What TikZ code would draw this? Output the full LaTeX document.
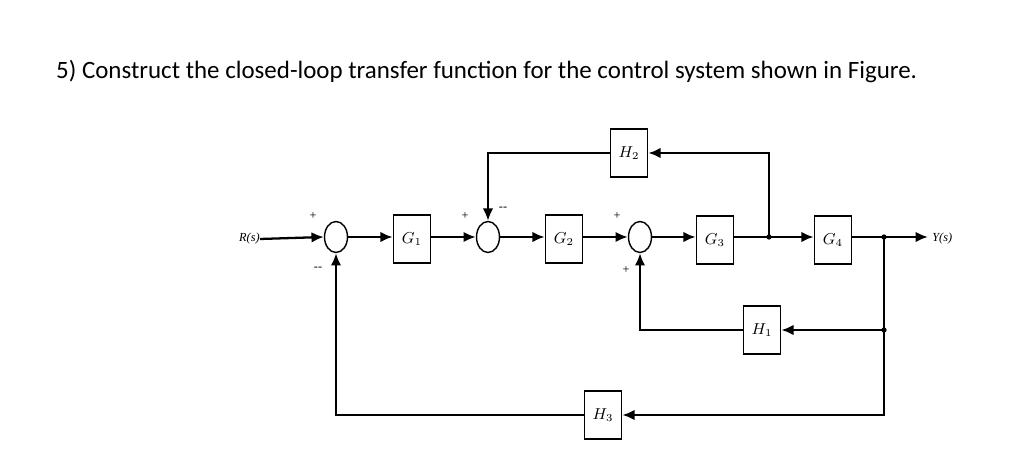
\documentclass[tikz,border=0pt]{standalone}
\usepackage{fontspec}
\setmainfont{Carlito}
\newfontfamily\tms{Liberation Serif}
\usetikzlibrary{arrows.meta,shapes.geometric}
\begin{document}
\begin{tikzpicture}[x=0.02cm,y=-0.02cm,
  blk/.style={draw,line width=1pt,minimum width=0.74cm,minimum height=0.96cm,inner sep=0pt,font=\tms\itshape\small},
  sum/.style={draw,line width=0.8pt,ellipse,minimum width=0.46cm,minimum height=0.62cm,inner sep=0pt},
  sig/.style={line width=1.3pt,-{Latex[length=7pt,width=6pt]}},
  wire/.style={line width=1.3pt},
  sg/.style={font=\tms\scriptsize,inner sep=0pt},
  dot/.style={circle,fill,inner sep=0pt,minimum size=3pt}]
\useasboundingbox (0,0) rectangle (1024,455);
\node[anchor=west,font=\fontsize{14.2}{16}\selectfont] (title) at (50,72) {5) Construct the closed-loop transfer function for the control system shown in Figure.};
\node[sg,font=\tms\itshape\scriptsize,anchor=east] (R) at (260,239) {R(s)};
\node[sum] (s1) at (336,237) {};
\node[blk] (G1) at (412,239) {$G_1$};
\node[sum] (s2) at (488,237) {};
\node[blk] (G2) at (564,239) {$G_2$};
\node[sum] (s3) at (640,237) {};
\node[blk] (G3) at (715,240) {$G_3$};
\node[blk] (G4) at (833,240) {$G_4$};
\node[blk] (H2) at (629,153) {$H_2$};
\node[blk] (H1) at (762,330) {$H_1$};
\node[blk] (H3) at (603,415) {$H_3$};
\node[sg,font=\tms\itshape\scriptsize,anchor=west] (Y) at (932,239) {Y(s)};
\coordinate (j1) at (769,237);
\coordinate (j2) at (884,237);
\coordinate (j3) at (884,330);
\node[dot] at (j1) {};
\node[dot] at (j2) {};
\node[dot] at (j3) {};
\coordinate (yend) at (928,237);
\draw[sig] (R.east) -- (s1.west);
\draw[sig] (s1.east) -- (G1.west |- s1.east);
\draw[sig] (G1.east |- s2.west) -- (s2.west);
\draw[sig] (s2.east) -- (G2.west |- s2.east);
\draw[sig] (G2.east |- s3.west) -- (s3.west);
\draw[sig] (s3.east) -- (G3.west |- s3.east);
\draw[wire] (G3.east |- j1) -- (j1);
\draw[sig] (j1) -- (G4.west |- j1);
\draw[wire] (G4.east |- j2) -- (j2);
\draw[sig] (j2) -- (yend);
\draw[sig] (j1) |- (H2.east);
\draw[sig] (H2.west) -| (s2.north);
\draw[sig] (j2) -- (j3) -- (H1.east);
\draw[sig] (H1.west) -| (s3.south);
\draw[sig] (j3) |- (H3.east);
\draw[sig] (H3.west) -| (s1.south);
\node[sg] at (313,216) {+};
\node[sg] at (318,269) {--};
\node[sg] at (465,216) {+};
\node[sg] at (503,209) {--};
\node[sg] at (617,216) {+};
\node[sg] at (626,270) {+};
\end{tikzpicture}
\end{document}
